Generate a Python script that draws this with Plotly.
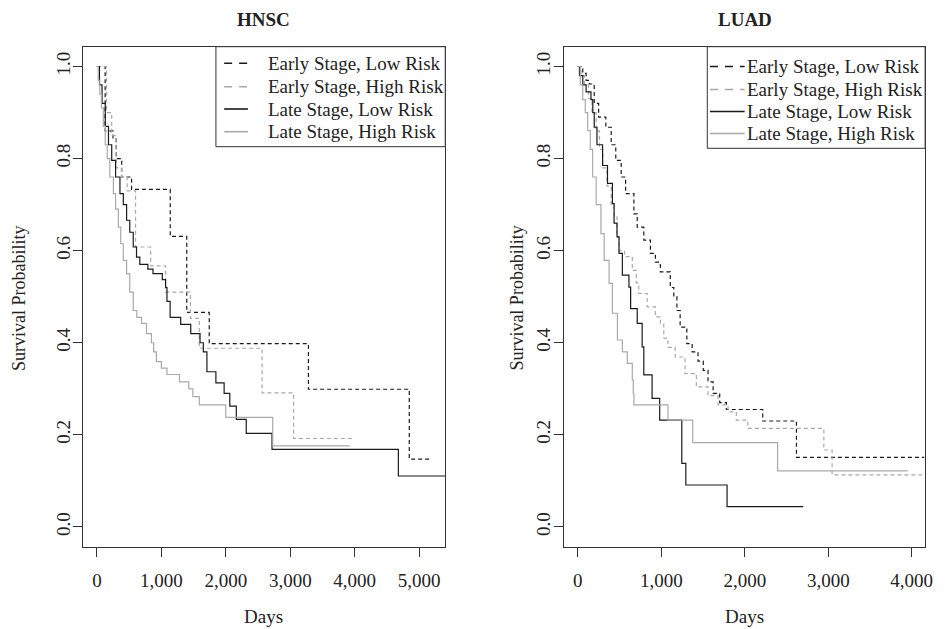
import plotly.graph_objects as go

series_names = ["Early Stage, Low Risk", "Early Stage, High Risk",
                "Late Stage, Low Risk", "Late Stage, High Risk"]

# HNSC curves (days, survival probability)
hnsc_early_low_t = [0, 128, 250, 300, 385, 538, 1138, 1394, 1743, 3282, 4846, 5180]
hnsc_early_low_s = [1.0, 0.86, 0.845, 0.80, 0.76, 0.733, 0.631, 0.466, 0.398, 0.299, 0.147, 0.147]

hnsc_early_high_t = [0, 150, 230, 300, 380, 470, 600, 835, 1066, 1451, 1589, 2563, 3051, 3974]
hnsc_early_high_s = [1.0, 0.90, 0.85, 0.78, 0.76, 0.73, 0.608, 0.567, 0.51, 0.453, 0.388, 0.291, 0.192, 0.192]

hnsc_late_low_t = [0, 40, 80, 130, 180, 230, 290, 358, 410, 461, 510, 564, 615, 666, 790, 870,
                   1015, 1066, 1087, 1136, 1300, 1456, 1600, 1651, 1707, 1846, 1974, 2062, 2163,
                   2317, 2717, 4677, 5400]
hnsc_late_low_s = [1.0, 0.96, 0.92, 0.87, 0.83, 0.796, 0.76, 0.724, 0.70, 0.666, 0.64, 0.608, 0.586,
                   0.57, 0.56, 0.55, 0.537, 0.52, 0.49, 0.455, 0.44, 0.42, 0.40, 0.38, 0.337, 0.313,
                   0.29, 0.2625, 0.2336, 0.2033, 0.1686, 0.1106, 0.1106]

hnsc_late_high_t = [0, 20, 45, 70, 100, 130, 160, 200, 256, 290, 333, 370, 410, 461, 510, 564, 620,
                    692, 770, 846, 880, 923, 1000, 1087, 1281, 1425, 1489, 1589, 1999, 2728, 3923]
hnsc_late_high_s = [1.0, 0.97, 0.94, 0.91, 0.87, 0.83, 0.80, 0.76, 0.724, 0.69, 0.651, 0.615, 0.579,
                    0.55, 0.51, 0.47, 0.455, 0.442, 0.42, 0.40, 0.38, 0.359, 0.345, 0.331, 0.315,
                    0.30, 0.283, 0.265, 0.238, 0.176, 0.176]

# LUAD curves
luad_early_low_t = [0, 60, 100, 138, 197, 250, 336, 400, 455, 520, 573, 672, 712, 791, 870, 930, 989,
                    1108, 1150, 1187, 1226, 1306, 1370, 1440, 1503, 1560, 1621, 1700, 1780, 2215,
                    2619, 4150]
luad_early_low_s = [1.0, 0.985, 0.97, 0.962, 0.92, 0.89, 0.868, 0.83, 0.796, 0.76, 0.724, 0.68, 0.651,
                    0.623, 0.594, 0.575, 0.554, 0.52, 0.50, 0.47, 0.434, 0.398, 0.38, 0.36, 0.34,
                    0.315, 0.29, 0.27, 0.255, 0.23, 0.151, 0.151]

luad_early_high_t = [0, 40, 80, 130, 170, 220, 260, 300, 350, 400, 435, 470, 494, 560, 653, 700, 731,
                     831, 929, 990, 1030, 1080, 1167, 1285, 1420, 1560, 1680, 1800, 1899, 2037, 2947,
                     3046, 4150]
luad_early_high_s = [1.0, 0.98, 0.96, 0.93, 0.90, 0.86, 0.82, 0.78, 0.74, 0.70, 0.673, 0.63, 0.60,
                     0.587, 0.557, 0.53, 0.507, 0.478, 0.456, 0.44, 0.41, 0.39, 0.369, 0.333, 0.304,
                     0.285, 0.265, 0.25, 0.232, 0.214, 0.167, 0.113, 0.113]

luad_late_low_t = [0, 20, 60, 100, 158, 180, 197, 230, 297, 356, 415, 435, 470, 494, 534, 613, 633,
                   712, 771, 791, 890, 981, 1246, 1294, 1788, 2700]
luad_late_low_s = [1.0, 0.98, 0.96, 0.945, 0.928, 0.90, 0.868, 0.83, 0.785, 0.746, 0.702, 0.66, 0.63,
                   0.594, 0.547, 0.521, 0.474, 0.442, 0.391, 0.33, 0.279, 0.232, 0.138, 0.091,
                   0.044, 0.044]

luad_late_high_t = [0, 30, 59, 90, 119, 150, 178, 220, 277, 316, 375, 415, 475, 534, 593, 653, 665,
                    672, 1080, 1377, 2393, 3950]
luad_late_high_s = [1.0, 0.96, 0.928, 0.90, 0.861, 0.82, 0.76, 0.70, 0.637, 0.579, 0.529, 0.464,
                    0.406, 0.38, 0.355, 0.319, 0.29, 0.265, 0.232, 0.183, 0.1215, 0.1215]

hnsc = [(hnsc_early_low_t, hnsc_early_low_s), (hnsc_early_high_t, hnsc_early_high_s),
        (hnsc_late_low_t, hnsc_late_low_s), (hnsc_late_high_t, hnsc_late_high_s)]
luad = [(luad_early_low_t, luad_early_low_s), (luad_early_high_t, luad_early_high_s),
        (luad_late_low_t, luad_late_low_s), (luad_late_high_t, luad_late_high_s)]

colors = ["#1a1a1a", "#a9a9a9", "#1a1a1a", "#a9a9a9"]
dashes = ["4px,3px", "4px,3px", "solid", "solid"]
FONT = "Liberation Serif"
OFF = 8  # page body margin
W, H = 946 - OFF, 629 - OFF


# positions below are given in window pixels
def fx(x):
    return (x - OFF) / W


def fy(y):
    return 1 - (y - OFF) / H


fig = go.Figure()
for curves, xa, ya in [(hnsc, "x", "y"), (luad, "x2", "y2")]:
    for i, (t, s) in enumerate(curves):
        fig.add_trace(go.Scatter(x=t, y=s, mode="lines", line_shape="hv", name=series_names[i],
                                 line=dict(color=colors[i], width=1.2, dash=dashes[i]),
                                 xaxis=xa, yaxis=ya, showlegend=False, hoverinfo="skip"))

axis_common = dict(showline=True, mirror=True, linecolor="#333", linewidth=1, ticks="outside",
                   ticklen=9, tickcolor="#333", tickwidth=1, showgrid=False, zeroline=False,
                   tickfont=dict(family=FONT, size=19, color="#222"))
ydom = [fy(546.7), fy(46.7)]
fig.update_layout(
    width=W, height=H, margin=dict(l=0, r=0, t=0, b=0),
    plot_bgcolor="white", paper_bgcolor="white",
    xaxis=dict(domain=[fx(84), fx(449)], range=[-210, 5404], anchor="y",
               tickvals=[0, 1000, 2000, 3000, 4000, 5000], tickformat=",",
               ticklabelstandoff=7, **axis_common),
    yaxis=dict(domain=ydom, range=[-0.043, 1.043], anchor="x",
               tickvals=[0, 0.2, 0.4, 0.6, 0.8, 1.0], tickformat=".1f", tickangle=-90,
               ticklabelstandoff=-4, **axis_common),
    xaxis2=dict(domain=[fx(568.7), fx(933)], range=[-166, 4160], anchor="y2",
                tickvals=[0, 1000, 2000, 3000, 4000], tickformat=",",
                ticklabelstandoff=7, **axis_common),
    yaxis2=dict(domain=ydom, range=[-0.043, 1.043], anchor="x2",
                tickvals=[0, 0.2, 0.4, 0.6, 0.8, 1.0], tickformat=".1f", tickangle=-90,
                ticklabelstandoff=-4, **axis_common),
)

ann = []
font = dict(family=FONT, size=19, color="#222")
for cx, title in [(266, "HNSC"), (751, "LUAD")]:
    ann.append(dict(x=fx(cx), y=fy(OFF), xref="paper", yref="paper", text="<b>" + title + "</b>",
                    showarrow=False, font=font, xanchor="center", yanchor="top", borderpad=0))
    ann.append(dict(x=fx(cx), y=fy(616), xref="paper", yref="paper", text="Days",
                    showarrow=False, font=font, xanchor="center", yanchor="middle"))
for lx in [19, 521]:
    ann.append(dict(x=fx(lx), y=fy(298), xref="paper", yref="paper", text="Survival Probability",
                    textangle=-90, showarrow=False, font=dict(family=FONT, size=18, color="#222"),
                    xanchor="center", yanchor="middle"))

# legends drawn by hand, R style
shapes = []
legends = [
    dict(box=(217.7, 46.7, 449, 146.7), line=(226, 250), text_x=268, rows=[63.3, 86.7, 109, 131.7]),
    dict(box=(713.3, 46.7, 933, 148.3), line=(716, 751), text_x=751, rows=[66.5, 89.5, 111.5, 133.5]),
]
for lg in legends:
    x0, y0, x1, y1 = lg["box"]
    shapes.append(dict(type="rect", xref="paper", yref="paper", x0=fx(x0), x1=fx(x1),
                       y0=fy(y1), y1=fy(y0), line=dict(color="#333", width=1), fillcolor="white"))
    for i, ry in enumerate(lg["rows"]):
        shapes.append(dict(type="line", xref="paper", yref="paper", x0=fx(lg["line"][0]),
                           x1=fx(lg["line"][1]), y0=fy(ry), y1=fy(ry),
                           line=dict(color=colors[i], width=1.6,
                                     dash="8px,7px" if dashes[i] != "solid" else "solid")))
        ann.append(dict(x=fx(lg["text_x"]), y=fy(ry), xref="paper", yref="paper",
                        text=series_names[i], showarrow=False, font=font,
                        xanchor="left", yanchor="middle"))

fig.update_layout(annotations=ann, shapes=shapes)
fig.write_html("out.html")
